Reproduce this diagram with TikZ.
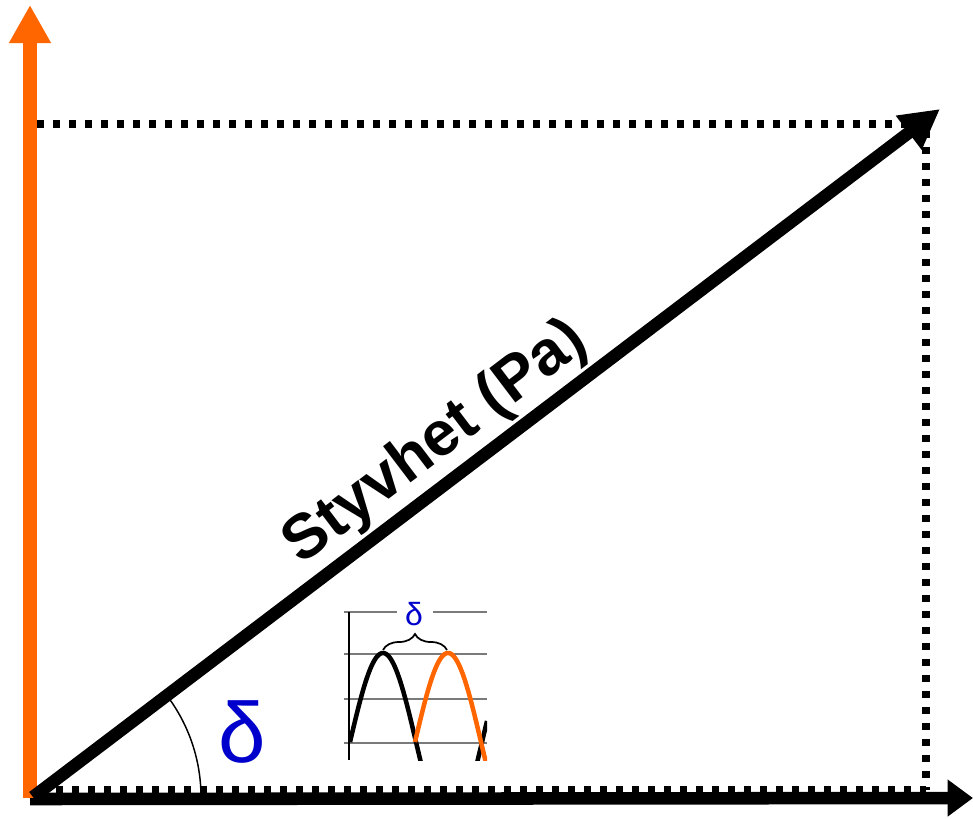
\documentclass[tikz,border=0pt]{standalone}
\usepackage{fontspec}
\setmainfont{Liberation Sans}
\usetikzlibrary{arrows.meta,decorations.pathreplacing,calc}
\definecolor{orng}{HTML}{FF6600}
\definecolor{dblue}{HTML}{0000CC}
\definecolor{gridgray}{HTML}{7A7A7A}
\begin{document}
\begin{tikzpicture}[x=0.75pt,y=-0.75pt,
  dotline/.style={line width=5.5pt, dash pattern=on 5.5pt off 6.5pt},
  bigarrow/.style={line width=9.4pt},
  gridline/.style={gridgray, line width=0.9pt},
  curve/.style={line width=3.4pt, line join=round, samples=140},
  bluelabel/.style={text=dblue, inner sep=0pt, anchor=base}]
\useasboundingbox (0,0) rectangle (973,818);

% coordinates
\coordinate (O) at (33,797);
\coordinate (T) at (940,109);
\coordinate (Ybot) at (30,798);
\coordinate (Ytip) at (30,5);
\coordinate (Xst) at (30,799);
\coordinate (Xtip) at (973,798);
\coordinate (TL) at (37,124);
\coordinate (BR) at (926,789.5);
\coordinate (BL) at (40,789.5);

% dotted projection lines
\draw[dotline] (TL) -| (BR);
\draw[dotline] (BL) -- (BR);

% angle arc
\draw[line width=1.1pt] ($(O)+(126pt,0pt)$) arc[start angle=0, end angle=37.2, radius=126pt];

% axes
\draw[bigarrow, -{Triangle[length=19pt,width=26.5pt]}] (Xst) -- (Xtip);
\draw[orng, line width=9.9pt, -{Triangle[length=28.5pt,width=29.5pt]}] (Ybot) -- (Ytip);

% vector
\draw[bigarrow, -{Triangle[length=29.5pt,width=30pt]}] (O) -- (T);

% labels
\node[font=\bfseries\fontsize{47}{47}\selectfont, rotate=37.2, anchor=base, inner sep=0pt] (lbl) at (446,456) {Styvhet (Pa)};
\node[bluelabel, font=\fontsize{64}{64}\selectfont] (d1) at (242.5,762) {δ};

% inset graph
\draw[gridline] (344,612) -- (397,612);
\draw[gridline] (433,612) -- (487,612);
\draw[gridline] (344,654) -- (487,654);
\draw[gridline] (344,699) -- (487,699);
\draw[gridline] (344,743) -- (487,743);
\draw[line width=1.1pt] (349,612) -- (349,760);
\begin{scope}
\clip (349,600) rectangle (487,760);
\draw[curve, black, domain=350:487] plot (\x, {742-89*sin(2.72727*(\x-350))});
\draw[curve, orng, domain=415:487] plot (\x, {742-89*sin(2.72727*(\x-415))});
\end{scope}
\draw[decorate, decoration={brace, amplitude=12pt}, line width=1.3pt] (383,650) -- (447,650);
\node[bluelabel, font=\fontsize{24}{24}\selectfont] (d2) at (414,625.5) {δ};
\end{tikzpicture}
\end{document}
